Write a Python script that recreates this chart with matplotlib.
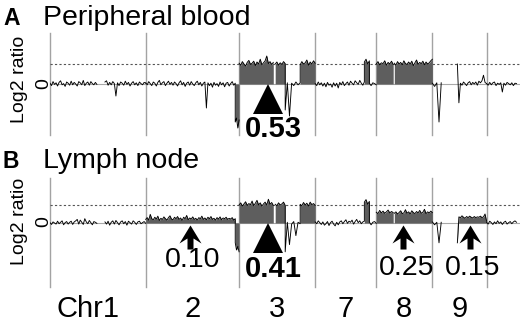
import numpy as np
import matplotlib
matplotlib.use('Agg')
import matplotlib.pyplot as plt
from matplotlib.path import Path
from matplotlib.transforms import offset_copy

plt.rcParams['font.family'] = ['Liberation Sans', 'DejaVu Sans']

# chromosomes in plotting order, lengths in Mb
chroms = ['1', '2', '3', '7', '8', '9', 'X']
chrom_len = [249, 243, 198, 159, 146, 141, 78]
chrom_labels = ['Chr1', '2', '3', '7', '8', '9', '']

# ---- A: peripheral blood, log2 ratios ----
pb_chr1p = [0.02, -0.04, 0.06, -0.01, 0.03, -0.05, 0.04, 0.08, -0.02, 0.01,
            -0.06, 0.05, 0.02, -0.03, 0.07, -0.02, 0.04, 0.00, -0.05, 0.06,
            0.03, -0.02, 0.09, -0.04, 0.02, 0.05, -0.03, 0.06, 0.01, -0.02,
            0.04, -0.01]
pb_chr1q = [0.05, 0.08, -0.03, 0.04, -0.02, 0.06, 0.01, -0.30, 0.03, -0.04,
            0.05, 0.02, -0.03, 0.07, -0.01, 0.04, -0.05, 0.02, 0.06, -0.02,
            0.03, -0.04, 0.05, 0.01, -0.02, 0.04, 0.02]
pb_chr2 = [0.03, -0.02, 0.06, 0.01, -0.04, 0.05, 0.02, -0.05, 0.04, 0.09,
           -0.02, 0.03, 0.06, -0.04, 0.02, 0.07, -0.01, 0.04, -0.03, 0.05,
           0.01, -0.05, 0.03, 0.08, -0.02, 0.04, -0.06, 0.02, 0.05, -0.03,
           0.06, 0.00, -0.04, 0.03, 0.07, -0.02, 0.04, -0.05, 0.02, 0.05,
           -0.60, 0.03, -0.04, 0.02, -0.08, 0.04, -0.03, 0.01, -0.06, 0.05,
           -0.02, 0.03, -0.07, 0.02, 0.04, -0.05, 0.01, 0.06, -0.03, 0.02]
pb_chr2del = [-0.95, -0.85, -1.10, -0.90]
pb_chr3a = [0.52, 0.47, 0.56, 0.50, 0.45, 0.54, 0.59, 0.49, 0.52, 0.57,
            0.46, 0.55, 0.50, 0.62, 0.48, 0.53, 0.58, 0.70, 0.51, 0.56,
            0.49, 0.54]
pb_chr3b = [0.50, 0.55, 0.47, 0.53, 0.49, 0.56, 0.51]
pb_chr3c = [-0.65, 0.03, -0.80, 0.02, -0.04, 0.05, -0.02, 0.03]
pb_chr3d = [0.48, 0.56, 0.50, 0.53, 0.60, 0.47, 0.55, 0.50, 0.58, 0.52]
pb_chr7a = [0.01, -0.04, 0.05, -0.02, 0.03, -0.05, 0.02, -0.07, 0.04, -0.03,
            0.00, -0.08, 0.03, -0.05, 0.02, -0.10, 0.04, -0.02, 0.06, -0.04,
            0.01, 0.05, -0.03, 0.07, 0.02, -0.02, 0.08, 0.03, -0.01, 0.09,
            0.02, -0.03, 0.05]
pb_chr7b = [0.55, 0.62, 0.50, 0.58]
pb_chr7c = [0.02, -0.04, 0.03, 0.01, -0.02]
pb_chr8p = [0.50, 0.56, 0.48, 0.53, 0.51, 0.58, 0.47, 0.54, 0.50, 0.57, 0.49]
pb_chr8q = [0.52, 0.47, 0.56, 0.50, 0.54, 0.48, 0.58, 0.51, 0.49, 0.55,
            0.50, 0.57, 0.46, 0.53, 0.60, 0.49, 0.54, 0.51, 0.57, 0.48,
            0.55, 0.50, 0.53, 0.58, 0.62]
pb_chr9p = [0.02, -0.06, 0.03, -0.95, 0.03]
pb_chr9q = [0.50, -0.47, 0.02, -0.03, 0.05, 0.01, -0.04, 0.03, 0.06, -0.02,
            0.04, 0.00, 0.05, -0.03, 0.07, 0.03, 0.08, 0.22, 0.04, 0.01]
pb_chrX = [0.01, -0.03, 0.04, -0.02, 0.03, 0.05, -0.04, 0.02, -0.01, 0.03,
           -0.20, 0.02, -0.03, 0.04, 0.01, -0.02, 0.03, -0.04, 0.02, 0.01]

# ---- B: lymph node ----
ln_chr1p = [0.01, -0.04, 0.03, 0.00, -0.03, 0.05, -0.02, 0.02, 0.06, -0.05,
            0.01, 0.04, -0.03, 0.02, 0.05, -0.04, 0.03, 0.06, 0.10, -0.03,
            0.08, 0.02, -0.04, 0.12, 0.03, -0.02, 0.07, 0.01, -0.05, 0.04,
            0.02, -0.01]
ln_chr1q = [0.03, -0.03, 0.05, -0.06, 0.02, 0.06, -0.03, 0.07, 0.01, -0.05,
            0.03, 0.06, -0.02, 0.04, -0.06, 0.05, 0.01, -0.03, 0.06, 0.02,
            -0.04, 0.03, 0.05, -0.02, 0.01, 0.04, -0.01]
ln_chr2 = [0.10, 0.15, 0.08, 0.24, 0.12, 0.09, 0.16, 0.11, 0.19, 0.07,
           0.13, 0.10, 0.17, 0.12, 0.08, 0.15, 0.20, 0.11, 0.09, 0.16,
           0.12, 0.18, 0.10, 0.14, 0.07, 0.16, 0.12, 0.21, 0.09, 0.14,
           0.11, 0.17, 0.10, 0.13, 0.08, 0.15, 0.12, 0.19, 0.10, 0.14,
           0.09, 0.16, 0.12, 0.18, 0.10, 0.13, 0.08, 0.15, 0.11, 0.17,
           0.09, 0.14, 0.12, 0.16, 0.10, 0.13, 0.11, 0.15, 0.08, 0.12]
ln_chr2del = [-0.55, -0.75, -0.65, -0.80]
ln_chr3a = [0.50, 0.56, 0.47, 0.53, 0.59, 0.49, 0.54, 0.51, 0.61, 0.48,
            0.55, 0.63, 0.50, 0.56, 0.47, 0.53, 0.58, 0.50, 0.66, 0.52,
            0.57, 0.49]
ln_chr3b = [0.52, 0.48, 0.56, 0.50, 0.53, 0.58, 0.49]
ln_chr3c = [-0.80, 0.02, -0.60, -0.03, 0.04, -0.35, 0.02, -0.02]
ln_chr3d = [0.52, 0.48, 0.57, 0.50, 0.55, 0.47, 0.58, 0.51, 0.54, 0.49]
ln_chr7a = [0.03, -0.02, 0.06, 0.01, -0.04, 0.03, -0.06, -0.02, 0.04, -0.07,
            0.01, 0.05, -0.03, -0.08, 0.02, -0.05, 0.03, 0.06, -0.02, 0.04,
            0.09, -0.01, 0.05, 0.02, 0.08, -0.03, 0.04, 0.10, 0.01, 0.06,
            -0.02, 0.03, 0.05]
ln_chr7b = [0.58, 0.65, 0.52, 0.60]
ln_chr7c = [0.03, -0.05, 0.02, 0.04, -0.01]
ln_chr8p = [0.30, 0.26, 0.35, 0.28, 0.33, 0.27, 0.31, 0.36, 0.28, 0.32, 0.29]
ln_chr8q = [0.27, 0.31, 0.25, 0.29, 0.34, 0.26, 0.28, 0.37, 0.27, 0.31,
            0.25, 0.34, 0.29, 0.26, 0.32, 0.28, 0.35, 0.27, 0.30, 0.38,
            0.26, 0.31, 0.28, 0.33, 0.29]
ln_chr9p = [0.03, -0.05, 0.02, -0.55, 0.02]
ln_chr9q = [-0.55, 0.17, 0.15, 0.20, 0.16, 0.13, 0.18, 0.15, 0.19, 0.16,
            0.14, 0.18, 0.15, 0.17, 0.16, 0.19, 0.15, 0.17, 0.25, 0.05]
ln_chrX = [0.02, -0.03, 0.05, 0.01, -0.04, 0.03, -0.02, 0.06, -0.01, 0.03,
           -0.04, 0.02, 0.05, -0.03, 0.01, 0.04, -0.02, 0.03, 0.06, 0.02]

# segment table: chrom, start Mb, end Mb, called (filled), values
blood_segs = [
    ('1', 0, 122, False, pb_chr1p), ('1', 143, 249, False, pb_chr1q),
    ('2', 0, 233, False, pb_chr2), ('2', 233, 243, True, pb_chr2del),
    ('3', 0, 89, True, pb_chr3a), ('3', 94, 120, True, pb_chr3b),
    ('3', 120, 159, False, pb_chr3c), ('3', 159, 198, True, pb_chr3d),
    ('7', 0, 128, False, pb_chr7a), ('7', 128, 141, True, pb_chr7b),
    ('7', 141, 159, False, pb_chr7c),
    ('8', 0, 44, True, pb_chr8p), ('8', 47, 146, True, pb_chr8q),
    ('9', 0, 23, False, pb_chr9p), ('9', 65, 141, False, pb_chr9q),
    ('X', 0, 78, False, pb_chrX),
]
node_segs = [
    ('1', 0, 122, False, ln_chr1p), ('1', 143, 249, False, ln_chr1q),
    ('2', 0, 233, True, ln_chr2), ('2', 233, 243, True, ln_chr2del),
    ('3', 0, 89, True, ln_chr3a), ('3', 94, 120, True, ln_chr3b),
    ('3', 120, 159, False, ln_chr3c), ('3', 159, 198, True, ln_chr3d),
    ('7', 0, 128, False, ln_chr7a), ('7', 128, 141, True, ln_chr7b),
    ('7', 141, 159, False, ln_chr7c),
    ('8', 0, 44, True, ln_chr8p), ('8', 47, 146, True, ln_chr8q),
    ('9', 0, 23, False, ln_chr9p), ('9', 65, 141, True, ln_chr9q),
    ('X', 0, 78, False, ln_chrX),
]

# estimated fractions: chrom, position Mb, label, marker kind
blood_marks = [('3', 75, '0.53', 'tri')]
node_marks = [('3', 75, '0.41', 'tri'), ('2', 115, '0.10', 'arrow'),
              ('8', 70, '0.25', 'arrow'), ('9', 98, '0.15', 'arrow')]

offsets = dict(zip(chroms, np.concatenate([[0], np.cumsum(chrom_len)[:-1]])))
genome_end = 1223

FILL = '#5e5e5e'
VLINE = '#a3a3a3'

# notched arrow marker (pixels, tip up)
arrow_marker = Path([(0, 12), (11, -6), (3, -1), (3, -12), (-3, -12),
                     (-3, -1), (-11, -6), (0, 12)], closed=True)


def draw_panel(ax, segs, ylim):
    ax.set_xlim(0, genome_end)
    ax.set_ylim(*ylim)
    ax.axis('off')
    for c in chroms:
        ax.axvline(offsets[c], color=VLINE, lw=1.0, zorder=1, clip_on=False)
    ax.axhline(0, color='#a8a8a8', lw=0.8, zorder=1)
    ax.axhline(0.5, color='#555555', lw=0.8, ls=(0, (2, 2)), zorder=1)

    # join segments within a chromosome, break at gaps
    for c in chroms:
        xs, ys = [], []
        prev_end = None
        for chrom, s, e, filled, vals in segs:
            if chrom != c:
                continue
            x = offsets[c] + np.linspace(s, e, len(vals))
            if filled:
                ax.fill_between(x, 0, vals, color=FILL, lw=0, zorder=2)
            if prev_end is not None and s > prev_end + 0.5:
                xs.append([np.nan])
                ys.append([np.nan])
            xs.append(x)
            ys.append(vals)
            prev_end = e
        if xs:
            ax.plot(np.concatenate(xs), np.concatenate(ys), color='black',
                    lw=0.65, zorder=3)


def draw_marks(ax, marks, label_dy):
    for (chrom, pos, lab, kind), dy in zip(marks, label_dy):
        x = offsets[chrom] + pos
        if kind == 'tri':
            tr = offset_copy(ax.transData, fig=fig, x=0, y=-15, units='dots')
            ax.plot(x, 0, marker='^', ms=21.6, color='black', mew=0,
                    transform=tr, clip_on=False, zorder=5)
            ax.annotate(lab, xy=(x, 0), xytext=(5, dy), textcoords='offset pixels',
                        ha='center', va='center', fontsize=21, fontweight='bold')
        else:
            tr = offset_copy(ax.transData, fig=fig, x=0, y=-14, units='dots')
            ax.plot(x, 0, marker=arrow_marker, ms=17.3, color='black', mew=0,
                    transform=tr, clip_on=False, zorder=5)
            ax.annotate(lab, xy=(x, 0), xytext=(3, dy), textcoords='offset pixels',
                        ha='center', va='center', fontsize=20.5)


fig = plt.figure(figsize=(5.2, 3.25), dpi=100)
ax_a = fig.add_axes([50 / 520, 1 - 135 / 325, 470 / 520, 102 / 325])
ax_b = fig.add_axes([50 / 520, 1 - 287 / 325, 470 / 520, 109 / 325])

draw_panel(ax_a, blood_segs, (-1.275, 1.275))
draw_panel(ax_b, node_segs, (-64 / 36, 45 / 36))
draw_marks(ax_a, blood_marks, [-45])
draw_marks(ax_b, node_marks, [-46, -37, -45, -45])

# panel titles
fig.text(3 / 520, 1 - 25 / 325, 'A', fontsize=16.5, fontweight='bold', va='baseline')
fig.text(43 / 520, 1 - 25 / 325, 'Peripheral blood', fontsize=20.5, va='baseline')
fig.text(3 / 520, 1 - 168 / 325, 'B', fontsize=16.5, fontweight='bold', va='baseline')
fig.text(43 / 520, 1 - 168 / 325, 'Lymph node', fontsize=20.5, va='baseline')

for yc, yz in [(79, 84), (221, 222)]:
    fig.text(20 / 520, 1 - yc / 325, 'Log2 ratio', rotation=90, fontsize=14,
             ha='center', va='center')
    fig.text(44 / 520, 1 - yz / 325, '0', rotation=90, fontsize=14,
             ha='center', va='center')

# chromosome labels under panel B
label_dx = [-10, 0, 0, 0, 0, 0, 0]
for c, n, lab, dx in zip(chroms, chrom_len, chrom_labels, label_dx):
    if lab:
        ax_b.annotate(lab, xy=(offsets[c] + n / 2, 8),
                      xycoords=('data', 'figure pixels'),
                      xytext=(dx, 0), textcoords='offset pixels',
                      ha='center', va='baseline', fontsize=21)

fig.savefig('out.png', dpi=100)
